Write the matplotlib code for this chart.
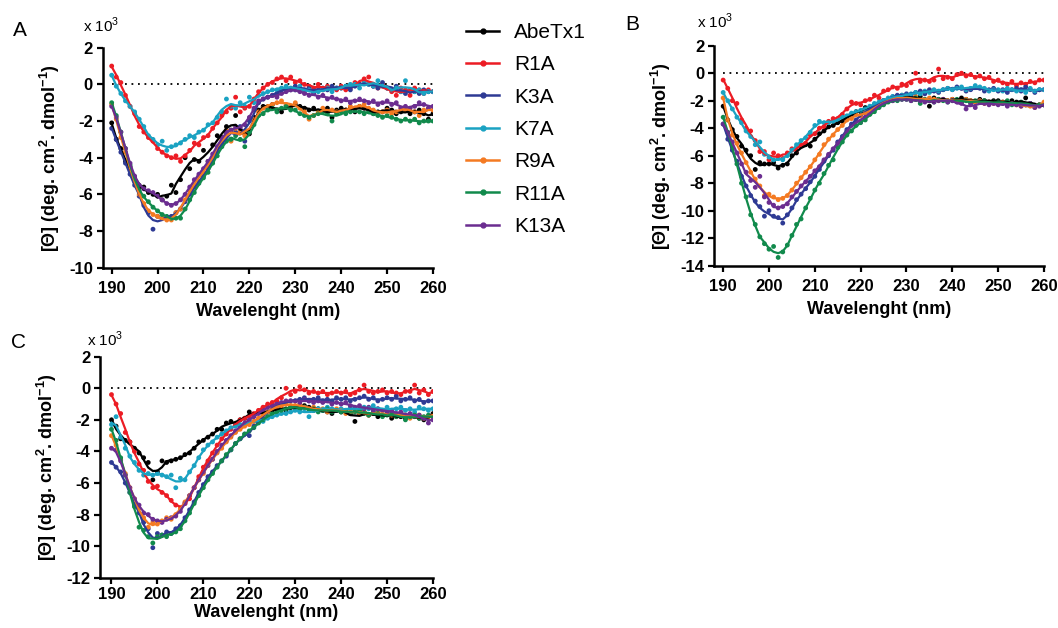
import numpy as np
import matplotlib
matplotlib.use("Agg")
import matplotlib.pyplot as plt
from matplotlib.lines import Line2D

plt.rcParams["font.family"] = ["Liberation Sans", "DejaVu Sans"]
plt.rcParams["mathtext.fontset"] = "custom"
plt.rcParams["mathtext.rm"] = "Liberation Sans"
plt.rcParams["mathtext.bf"] = "Liberation Sans:bold"
plt.rcParams["axes.unicode_minus"] = False

# wavelength grid (nm), one reading per nm
wavelength = np.arange(190, 261)

peptides = ["AbeTx1", "R1A", "K3A", "K7A", "R9A", "R11A", "K13A"]
colors = ["#000000", "#ec1c24", "#2e3a94", "#1aa2c2", "#f47a22", "#118a4c", "#6b2d90"]

# ---- panel A: molar ellipticity (x 10^3) ------------------------------
A_AbeTx1 = [-2.1, -3.0, -3.5, -4.2, -4.5, -5.1, -5.6, -5.6, -5.9, -6.0,
            -6.0, -6.3, -6.1, -5.5, -5.9, -5.2, -4.0, -4.6, -4.1, -4.2,
            -3.6, -4.2, -3.3, -2.8, -2.9, -2.3, -2.5, -1.7, -2.6, -2.7,
            -2.7, -1.8, -1.4, -1.2, -1.3, -1.1, -1.4, -1.5, -1.2, -1.3,
            -1.1, -1.2, -1.3, -1.4, -1.3, -1.5, -1.4, -1.3, -1.8, -1.4,
            -1.3, -1.4, -1.3, -1.5, -1.2, -1.3, -1.4, -1.6, -1.5, -1.5,
            -1.3, -1.4, -1.6, -1.5, -1.4, -1.6, -1.5, -1.4, -1.6, -1.9,
            -1.6]
A_R1A = [1.0, 0.4, 0.1, -0.6, -1.2, -1.6, -2.3, -2.6, -2.9, -3.1,
         -3.5, -3.7, -3.9, -4.0, -3.9, -4.2, -3.9, -3.6, -3.2, -3.3,
         -2.9, -2.8, -2.4, -2.1, -1.7, -1.5, -1.3, -0.7, -1.5, -1.3,
         -1.2, -0.8, -0.4, -0.2, 0.0, 0.1, 0.3, 0.4, 0.2, 0.4,
         0.1, 0.2, 0.0, -0.1, -0.2, 0.0, -0.3, -0.1, -0.2, -0.3,
         -0.1, -0.3, -0.2, 0.1, 0.0, 0.3, 0.4, -0.1, -0.2, 0.0,
         -0.2, -0.4, -0.6, -0.2, -0.3, -0.6, -0.2, -0.3, -0.5, -0.3,
         -0.4]
A_K3A = [-2.4, -3.0, -3.7, -4.3, -4.9, -5.5, -6.1, -6.6, -7.0, -7.9,
         -7.2, -7.3, -7.3, -7.2, -7.0, -6.8, -6.4, -6.0, -5.6, -5.3,
         -5.0, -4.6, -4.2, -3.7, -3.2, -2.7, -3.0, -2.6, -2.3, -3.1,
         -2.0, -1.4, -1.0, -0.8, -0.7, -0.6, -0.5, -0.3, -0.2, -0.3,
         -0.1, -0.2, -0.3, -0.2, -0.4, -0.3, -0.2, -0.3, -0.1, -0.2,
         -0.2, -0.1, -0.3, -0.1, 0.0, 0.1, 0.0, -0.1, -0.2, 0.1,
         -0.2, -0.3, -0.1, -0.4, -0.5, -0.3, -0.4, -0.5, -0.3, -0.4,
         -0.4]
A_K7A = [0.5, -0.1, -0.5, -0.9, -1.2, -1.5, -1.9, -2.3, -2.8, -3.0,
         -3.3, -3.1, -3.6, -3.4, -3.3, -3.2, -3.0, -2.8, -2.9, -2.6,
         -2.5, -2.2, -2.1, -1.8, -1.5, -0.8, -1.2, -1.3, -1.0, -1.2,
         -0.7, -1.0, -0.6, -0.5, -0.4, -0.3, -0.3, -0.2, -0.1, -0.2,
         -0.3, -0.1, -0.4, -0.3, -0.5, -0.4, -0.3, -0.2, -0.4, -0.2,
         -0.2, -0.1, 0.0, 0.0, -0.2, 0.1, 0.0, -0.1, 0.2, -0.1,
         -0.2, -0.3, -0.2, -0.4, 0.2, -0.3, -0.4, -0.3, -0.5, -0.4,
         -0.4]
A_R9A = [-1.1, -1.9, -2.9, -3.7, -4.6, -5.3, -6.0, -6.5, -6.9, -7.1,
         -7.2, -7.3, -7.4, -7.4, -7.0, -6.8, -6.3, -5.8, -5.5, -5.0,
         -4.8, -4.4, -4.0, -3.5, -3.0, -2.5, -3.1, -2.4, -2.6, -2.8,
         -2.5, -1.9, -1.5, -1.3, -1.2, -1.1, -1.0, -0.9, -1.1, -1.2,
         -1.0, -1.3, -1.5, -1.9, -1.7, -1.5, -1.3, -1.5, -1.4, -1.5,
         -1.5, -1.4, -1.2, -1.3, -1.2, -1.1, -1.3, -1.4, -1.6, -1.5,
         -1.4, -1.6, -1.5, -1.3, -1.4, -1.3, -1.5, -1.7, -1.4, -1.3,
         -1.4]
A_R11A = [-1.0, -1.7, -2.6, -3.5, -4.4, -5.2, -5.8, -6.1, -6.4, -6.7,
          -6.9, -7.1, -7.2, -7.3, -7.3, -7.3, -6.8, -6.3, -5.9, -5.4,
          -5.1, -4.8, -4.3, -3.9, -3.4, -3.1, -3.0, -2.8, -3.0, -3.4,
          -2.6, -2.2, -1.7, -1.6, -1.4, -1.3, -1.5, -1.3, -1.2, -1.4,
          -1.4, -1.6, -1.7, -1.8, -1.7, -1.6, -1.5, -1.6, -2.0, -1.6,
          -1.5, -1.6, -1.5, -1.4, -1.5, -1.6, -1.5, -1.6, -1.7, -1.8,
          -1.7, -1.8, -1.9, -2.0, -1.9, -2.0, -1.9, -2.1, -2.0, -2.0,
          -2.0]
A_K13A = [-1.2, -1.8, -2.6, -3.5, -4.3, -5.0, -5.5, -5.7, -5.8, -5.9,
          -6.1, -6.3, -6.5, -6.6, -6.5, -6.3, -6.0, -5.6, -5.2, -4.9,
          -4.6, -4.2, -3.8, -3.4, -2.9, -2.6, -2.5, -2.3, -2.4, -2.2,
          -1.8, -1.3, -0.9, -0.8, -0.7, -0.6, -0.7, -0.5, -0.4, -0.3,
          -0.3, -0.4, -0.5, -0.6, -0.5, -0.7, -0.6, -0.8, -0.7, -0.8,
          -0.9, -0.8, -1.0, -0.9, -0.8, -0.9, -1.0, -0.9, -1.1, -1.0,
          -0.9, -1.1, -1.0, -1.3, -1.2, -1.3, -1.2, -1.0, -1.1, -1.3,
          -1.2]

# ---- panel B ------------------------------------------------------------
B_AbeTx1 = [-2.4, -3.4, -4.1, -4.6, -5.3, -5.6, -6.0, -7.0, -6.5, -6.6,
            -6.6, -6.5, -6.9, -6.7, -6.6, -6.0, -5.8, -5.3, -5.2, -5.3,
            -4.8, -4.4, -4.2, -3.9, -3.8, -3.6, -3.5, -3.2, -3.0, -2.8,
            -2.8, -2.5, -2.5, -2.3, -2.2, -2.0, -1.9, -1.8, -1.7, -1.7,
            -1.7, -1.8, -1.9, -1.7, -2.0, -2.4, -1.8, -1.9, -1.9, -2.0,
            -1.9, -2.0, -1.8, -1.9, -2.0, -2.1, -1.9, -2.0, -2.1, -2.0,
            -2.0, -2.1, -2.2, -2.0, -2.1, -2.3, -1.8, -2.2, -2.4, -2.3,
            -2.3]
B_R1A = [-0.5, -1.1, -2.0, -2.2, -3.4, -4.0, -4.2, -4.9, -5.7, -5.7,
         -6.3, -5.8, -6.0, -6.2, -5.8, -5.5, -5.6, -5.2, -5.1, -4.5,
         -4.4, -4.0, -3.9, -3.5, -3.3, -3.3, -3.0, -2.6, -2.1, -2.2,
         -2.3, -2.0, -1.9, -1.6, -1.8, -1.3, -1.2, -1.0, -1.1, -0.8,
         -0.9, -0.7, 0.0, -0.6, -0.5, -0.6, -0.5, 0.3, -0.4, -0.3,
         -0.4, -0.1, 0.0, -0.2, -0.1, -0.3, -0.2, -0.4, -0.3, -0.6,
         -0.5, -0.7, -0.8, -0.6, -0.9, -0.7, -0.8, -0.6, -0.7, -0.5,
         -0.5]
B_K3A = [-3.7, -4.8, -5.6, -6.4, -7.5, -8.2, -8.9, -9.3, -9.7, -10.4,
         -10.0, -10.4, -10.5, -10.9, -10.3, -9.8, -9.2, -8.8, -8.4, -7.9,
         -7.5, -7.0, -6.4, -6.0, -5.6, -5.0, -4.6, -4.1, -3.7, -3.4,
         -3.1, -2.8, -2.6, -2.4, -2.2, -2.0, -1.9, -1.7, -1.6, -1.6,
         -1.5, -1.6, -1.4, -1.3, -1.5, -1.2, -1.3, -1.4, -1.2, -1.1,
         -1.2, -1.0, -1.1, -1.3, -1.2, -1.0, -1.1, -1.3, -1.2, -1.1,
         -1.3, -1.2, -1.4, -1.2, -1.1, -1.3, -1.0, -1.2, -1.4, -1.2,
         -1.2]
B_K7A = [-1.4, -2.0, -2.6, -3.2, -3.6, -4.2, -4.6, -5.2, -5.0, -5.9,
         -6.1, -6.3, -6.2, -6.3, -6.0, -5.6, -5.2, -4.9, -4.7, -4.3,
         -3.8, -3.5, -3.6, -3.6, -3.5, -3.4, -3.2, -3.1, -2.9, -2.8,
         -2.7, -2.6, -2.4, -2.2, -2.1, -2.0, -1.8, -1.7, -1.8, -1.6,
         -1.6, -1.5, -1.4, -1.5, -1.3, -1.4, -1.2, -1.3, -1.2, -1.1,
         -1.2, -1.1, -1.0, -1.2, -1.1, -0.9, -1.0, -1.1, -1.3, -1.2,
         -1.2, -1.3, -1.1, -1.2, -1.3, -1.2, -1.4, -1.1, -1.3, -1.2,
         -1.2]
B_R9A = [-1.8, -3.4, -4.5, -5.1, -5.8, -6.5, -7.2, -7.7, -8.2, -8.9,
         -8.8, -9.0, -9.2, -9.1, -8.9, -8.5, -8.0, -7.6, -7.2, -6.8,
         -6.3, -5.9, -5.2, -4.8, -4.5, -4.1, -3.8, -3.4, -3.3, -3.0,
         -3.1, -2.9, -2.8, -2.5, -2.3, -2.2, -2.0, -1.9, -1.8, -1.8,
         -1.8, -1.9, -1.7, -2.0, -1.9, -1.8, -1.9, -2.0, -1.9, -2.0,
         -1.9, -2.0, -2.1, -1.9, -2.0, -2.1, -2.0, -2.2, -2.1, -2.2,
         -2.2, -2.1, -2.3, -2.2, -2.3, -2.4, -2.3, -2.4, -2.5, -2.3,
         -2.1]
B_R11A = [-3.2, -4.3, -5.4, -6.6, -8.0, -9.0, -10.3, -11.0, -11.9, -12.4,
          -12.8, -12.6, -13.4, -13.0, -12.5, -11.8, -11.0, -10.6, -9.8, -9.1,
          -8.5, -8.0, -7.3, -6.7, -6.3, -5.4, -5.0, -4.5, -4.2, -3.8,
          -3.6, -3.4, -3.0, -2.8, -2.5, -2.3, -2.1, -2.0, -2.0, -1.9,
          -1.9, -2.0, -1.8, -2.2, -1.9, -2.0, -2.1, -1.9, -2.0, -2.1,
          -2.0, -1.9, -2.1, -2.0, -2.2, -2.0, -2.1, -2.0, -2.2, -2.1,
          -2.1, -2.2, -2.0, -2.3, -2.2, -2.1, -2.3, -2.2, -2.4, -2.3,
          -2.3]
B_K13A = [-3.7, -4.3, -5.0, -5.8, -6.6, -7.2, -7.8, -8.3, -7.5, -9.0,
          -9.4, -9.6, -9.8, -9.7, -9.5, -9.0, -8.6, -8.2, -7.9, -7.5,
          -7.1, -6.8, -6.3, -5.9, -5.5, -5.1, -4.7, -4.2, -3.8, -3.5,
          -3.5, -3.2, -2.9, -2.6, -2.4, -2.2, -2.0, -2.0, -1.9, -1.9,
          -1.9, -2.0, -1.9, -2.0, -2.1, -2.0, -2.1, -2.0, -1.9, -2.1,
          -2.0, -2.1, -2.2, -2.6, -2.2, -2.5, -2.1, -2.2, -2.3, -2.2,
          -2.3, -2.2, -2.4, -2.2, -2.3, -2.4, -2.3, -2.2, -2.5, -2.4,
          -2.3]

# ---- panel C ------------------------------------------------------------
C_AbeTx1 = [-2.0, -2.4, -3.2, -3.3, -3.4, -3.8, -4.1, -4.4, -4.7, -5.8,
            -5.3, -4.6, -4.7, -4.6, -4.5, -4.4, -4.2, -4.1, -3.8, -3.4,
            -3.3, -3.1, -2.9, -2.6, -2.6, -2.2, -2.1, -2.3, -2.0, -1.9,
            -1.5, -1.7, -1.5, -1.6, -1.5, -1.4, -1.3, -1.3, -1.4, -1.2,
            -1.2, -1.3, -1.1, -1.2, -1.4, -1.3, -1.4, -1.5, -1.6, -1.4,
            -1.5, -1.4, -1.6, -2.1, -1.6, -1.5, -1.7, -1.6, -1.8, -1.7,
            -1.6, -1.9, -1.7, -1.8, -1.9, -1.8, -1.7, -1.9, -2.0, -1.8,
            -1.6]
C_R1A = [-0.4, -1.0, -1.6, -2.8, -3.4, -4.0, -4.8, -5.2, -5.9, -6.3,
         -6.2, -6.6, -6.8, -7.1, -7.4, -7.6, -7.3, -7.0, -6.3, -5.6,
         -5.0, -4.6, -4.1, -3.6, -3.2, -2.9, -2.6, -2.3, -2.0, -1.9,
         -1.8, -1.6, -1.4, -1.2, -1.0, -0.9, -0.8, -0.6, 0.0, -0.4,
         -0.2, 0.1, -0.1, -0.3, -0.2, -0.3, -0.2, -0.4, -0.3, -0.2,
         -0.3, -0.2, -0.4, -0.3, -0.1, 0.2, -0.2, -0.3, -0.2, -0.1,
         -0.3, -0.2, -0.3, -0.4, -0.2, -0.2, 0.2, -0.3, -0.1, -0.4,
         -0.2]
C_K3A = [-4.7, -5.0, -5.3, -6.0, -6.6, -7.4, -7.9, -8.5, -8.9, -10.1,
         -9.2, -9.3, -9.1, -9.2, -8.9, -8.7, -8.2, -7.7, -7.2, -6.6,
         -6.1, -5.6, -5.3, -4.9, -4.6, -4.3, -3.9, -3.5, -3.2, -2.9,
         -3.0, -2.4, -2.1, -1.8, -1.5, -1.3, -1.1, -1.0, -0.9, -0.8,
         -0.8, -0.7, -0.6, -0.8, -0.7, -0.6, -0.8, -0.7, -0.8, -0.6,
         -0.7, -0.6, -0.8, -0.7, -0.6, -0.5, -0.7, -0.6, -0.8, -0.7,
         -0.6, -0.7, -0.5, -0.8, -0.7, -0.6, -0.8, -0.7, -0.9, -0.8,
         -0.8]
C_K7A = [-2.3, -1.8, -3.1, -3.8, -4.3, -4.7, -5.2, -5.5, -5.4, -5.5,
         -5.4, -5.5, -5.6, -5.5, -6.3, -5.7, -5.8, -5.3, -4.9, -4.4,
         -3.9, -3.6, -3.4, -3.1, -2.9, -2.7, -2.5, -2.4, -2.3, -2.3,
         -2.2, -2.1, -2.0, -2.1, -1.9, -1.8, -1.7, -1.6, -1.6, -1.5,
         -1.4, -1.5, -1.3, -1.8, -1.4, -1.3, -1.4, -1.2, -1.3, -1.4,
         -1.3, -1.4, -1.2, -1.3, -1.4, -1.2, -1.3, -1.1, -1.3, -1.4,
         -1.2, -1.4, -1.3, -1.2, -1.4, -1.3, -1.5, -1.2, -1.3, -1.4,
         -1.3]
C_R9A = [-3.0, -3.6, -4.5, -5.4, -6.3, -7.0, -7.6, -8.2, -8.8, -8.5,
         -8.6, -8.4, -8.2, -8.3, -8.0, -7.6, -7.2, -6.8, -6.3, -5.8,
         -5.4, -4.9, -4.5, -4.1, -3.8, -3.4, -3.1, -2.8, -2.6, -2.4,
         -2.3, -2.1, -1.9, -1.7, -1.5, -1.3, -1.2, -1.1, -1.0, -1.1,
         -1.1, -1.0, -1.2, -1.3, -1.2, -1.4, -1.3, -1.5, -1.4, -1.3,
         -1.4, -1.6, -1.5, -1.4, -1.6, -1.5, -1.7, -1.6, -1.5, -1.7,
         -1.6, -1.7, -1.8, -1.6, -1.7, -1.9, -1.8, -1.7, -1.9, -1.8,
         -1.7]
C_R11A = [-2.6, -3.3, -4.4, -5.5, -6.6, -7.5, -8.8, -9.0, -9.4, -9.8,
          -9.4, -9.3, -9.4, -9.2, -9.1, -8.9, -8.4, -7.9, -7.3, -6.8,
          -6.3, -5.8, -5.4, -5.0, -4.6, -4.2, -3.9, -3.5, -3.2, -2.9,
          -2.7, -2.5, -2.2, -2.0, -1.8, -1.6, -1.5, -1.4, -1.3, -1.2,
          -1.2, -1.3, -1.2, -1.4, -1.3, -1.5, -1.4, -1.3, -1.5, -1.4,
          -1.5, -1.4, -1.6, -1.5, -1.4, -1.6, -1.7, -1.5, -1.6, -1.8,
          -1.7, -1.6, -1.8, -1.7, -2.0, -1.8, -1.7, -1.9, -1.8, -1.7,
          -1.8]
C_K13A = [-3.8, -3.9, -4.6, -5.5, -6.3, -7.0, -7.4, -7.9, -8.0, -8.3,
          -8.4, -8.5, -8.3, -8.2, -8.1, -7.8, -7.3, -6.8, -6.3, -5.8,
          -5.3, -4.9, -4.5, -4.0, -3.6, -3.3, -3.0, -2.7, -2.4, -2.2,
          -2.0, -1.8, -1.6, -1.4, -1.2, -1.1, -1.0, -0.9, -0.8, -0.8,
          -0.8, -0.9, -0.7, -0.8, -0.9, -0.8, -0.9, -0.8, -1.0, -0.9,
          -1.0, -0.9, -1.1, -1.2, -1.1, -1.3, -1.2, -1.4, -1.3, -1.4,
          -1.5, -1.4, -1.6, -1.5, -1.7, -1.6, -1.8, -1.7, -1.9, -2.2,
          -2.0]

panel_A = [A_AbeTx1, A_R1A, A_K3A, A_K7A, A_R9A, A_R11A, A_K13A]
panel_B = [B_AbeTx1, B_R1A, B_K3A, B_K7A, B_R9A, B_R11A, B_K13A]
panel_C = [C_AbeTx1, C_R1A, C_K3A, C_K7A, C_R9A, C_R11A, C_K13A]

y_ticks_A = [2, 0, -2, -4, -6, -8, -10]
y_ticks_B = [2, 0, -2, -4, -6, -8, -10, -12, -14]
y_ticks_C = [2, 0, -2, -4, -6, -8, -10, -12]
x_ticks = [190, 200, 210, 220, 230, 240, 250, 260]


def smooth(y, half=3):
    """Local quadratic fit around each reading (shrinks at the ends)."""
    y = np.asarray(y, dtype=float)
    out = np.empty_like(y)
    idx = np.arange(len(y))
    for i in idx:
        lo, hi = max(0, i - half), min(len(y), i + half + 1)
        c = np.polyfit(idx[lo:hi] - i, y[lo:hi], 2)
        out[i] = c[-1]
    return out


def draw_panel(ax, series, yticks, xlo, letter, letter_xy, exp_xy,
               xpad=2.5, xlabelpad=1):
    for vals, col in zip(series, colors):
        ax.scatter(wavelength, vals, s=12, color=col, edgecolors="none",
                   zorder=3)
        ax.plot(wavelength, smooth(vals), color=col, lw=1.6, zorder=4)

    # zero reference
    ax.plot([190, 260], [0, 0], color="black", lw=1.3,
            ls=(0, (1, 2.6)), zorder=2)

    ax.set_xlim(xlo, 260)
    ax.set_ylim(min(yticks), max(yticks))
    ax.set_xticks(x_ticks)
    ax.set_yticks(yticks)
    for s in ("top", "right"):
        ax.spines[s].set_visible(False)
    ax.spines["left"].set_linewidth(1.8)
    ax.spines["bottom"].set_linewidth(1.8)
    ax.spines["bottom"].set_bounds(xlo, 260)
    ax.tick_params(direction="out", length=4.5, width=1.6, pad=2.5,
                   labelsize=12)
    ax.tick_params(axis="x", pad=xpad)
    for lab in ax.get_xticklabels() + ax.get_yticklabels():
        lab.set_fontweight("bold")

    ax.set_xlabel("Wavelenght (nm)", fontsize=13, fontweight="bold",
                  labelpad=xlabelpad)
    ax.set_ylabel(r"[Θ] (deg. cm$\mathbf{^{2}}$. dmol$\mathbf{^{-1}}$)",
                  fontsize=13, fontweight="bold", labelpad=5)

    fig = ax.figure
    fig.text(letter_xy[0] / 1058, 1 - letter_xy[1] / 628, letter,
             fontsize=15, ha="left", va="center")
    fig.text(exp_xy[0] / 1058, 1 - exp_xy[1] / 628, r"x 10$^{3}$",
             fontsize=11, ha="left", va="center")


def build():
    fig = plt.figure(figsize=(10.58, 6.28), dpi=100)

    axA = fig.add_axes([102.5 / 1058, 1 - 267.7 / 628, 330.5 / 1058, 220 / 628])
    axB = fig.add_axes([714 / 1058, 1 - 265.7 / 628, 330 / 1058, 220 / 628])
    axC = fig.add_axes([100 / 1058, 1 - 577.7 / 628, 333 / 1058, 221 / 628])

    draw_panel(axA, panel_A, y_ticks_A, 188.0, "A", (13, 30), (83, 25),
               xpad=5, xlabelpad=5)
    draw_panel(axB, panel_B, y_ticks_B, 188.0, "B", (625, 25), (697, 21),
               xpad=5, xlabelpad=5)
    draw_panel(axC, panel_C, y_ticks_C, 187.5, "C", (11, 343), (87, 339))

    # legend for all three panels
    handles = [Line2D([], [], color=c, lw=1.8, marker="o", ms=3.5)
               for c in colors]
    fig.legend(handles, peptides, loc="upper left",
               bbox_to_anchor=(466 / 1058, 1 - 23 / 628),
               frameon=False, fontsize=15, handlelength=1.6,
               handletextpad=0.7, labelspacing=0.64,
               borderpad=0, borderaxespad=0)

    fig.savefig("out.png", dpi=100, facecolor="white")
    plt.close(fig)


if __name__ == "__main__":
    build()
